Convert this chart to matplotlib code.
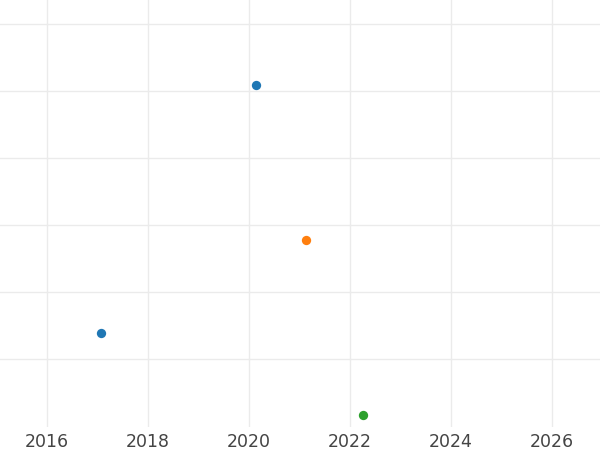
import matplotlib
matplotlib.use("Agg")
import matplotlib.pyplot as plt

series_a_x = [2017.07, 2020.14]
series_a_y = [1.39, 5.09]
series_b_x = [2021.13]
series_b_y = [2.78]
series_c_x = [2022.25]
series_c_y = [0.17]
x_ticks = [2016, 2018, 2020, 2022, 2024, 2026]
y_ticks = [1, 2, 3, 4, 5, 6]

fig = plt.figure(figsize=(6, 4.5), dpi=100)
ax = fig.add_axes([0, 23/450, 1, 427/450])
ax.set_xlim(2015.07, 2026.95)
ax.set_ylim(-0.01, 6.36)
ax.set_xticks(x_ticks)
ax.set_xticklabels([str(t) for t in x_ticks])
ax.set_yticks(y_ticks)
ax.set_yticklabels([])
ax.grid(True, color="#ebebeb", linewidth=1)
ax.set_axisbelow(True)
for s in ax.spines.values():
    s.set_visible(False)
ax.tick_params(length=0, labelsize=12.5, labelcolor="#444444", pad=4)

ax.scatter(series_a_x, series_a_y, s=45, color="#1f77b4", zorder=3, linewidths=0)
ax.scatter(series_b_x, series_b_y, s=45, color="#ff7f0e", zorder=3, linewidths=0)
ax.scatter(series_c_x, series_c_y, s=45, color="#2ca02c", zorder=3, linewidths=0)

fig.savefig("out.png", dpi=100)
